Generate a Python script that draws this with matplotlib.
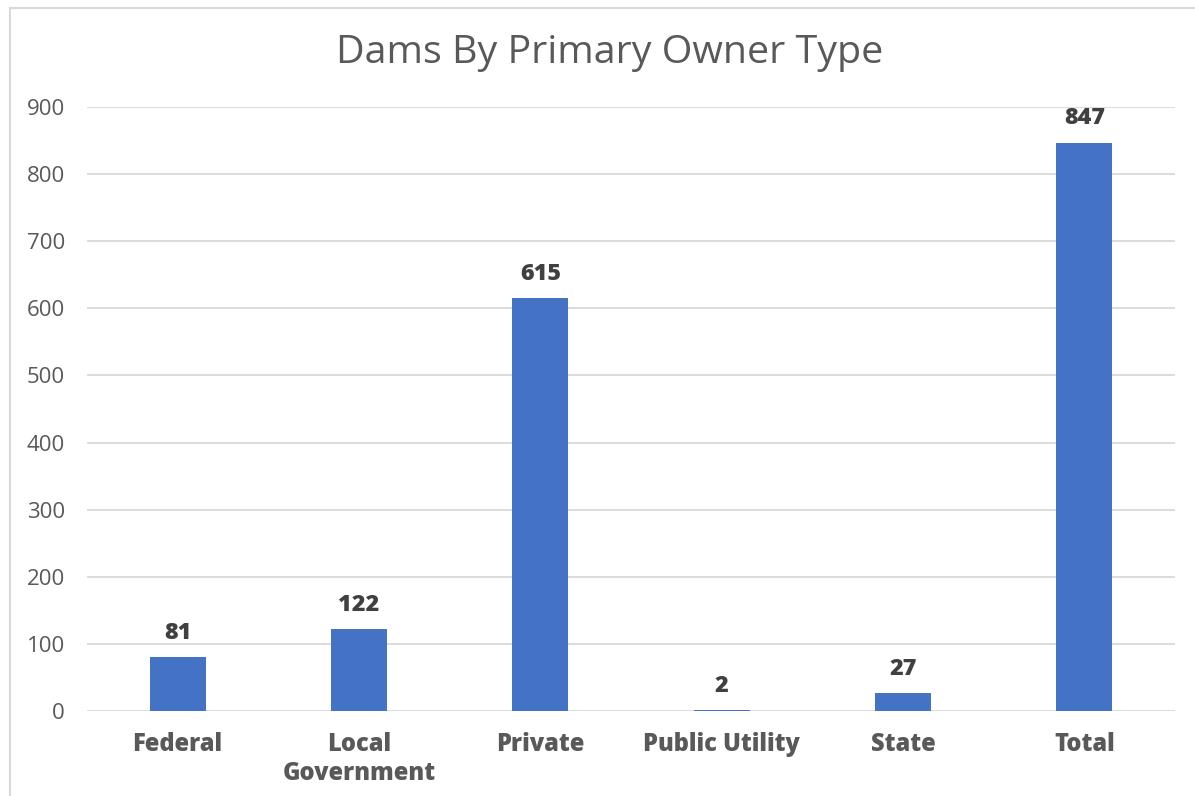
import matplotlib
matplotlib.use("Agg")
import matplotlib.pyplot as plt
from matplotlib.lines import Line2D

categories = ["Federal", "Local\nGovernment", "Private", "Public Utility", "State", "Total"]
dams = [81, 122, 615, 2, 27, 847]
yticks = [0, 100, 200, 300, 400, 500, 600, 700, 800, 900]

fig = plt.figure(figsize=(11.95, 7.96), dpi=100)
ax = fig.add_axes([0.0728, 0.1068, 0.9105, 0.7588])

x = range(len(categories))
bars = ax.bar(x, dams, width=0.31, color="#4472C4", zorder=3)
for b, v in zip(bars, dams):
    ax.annotate(str(v), (b.get_x() + b.get_width() / 2, v), xytext=(0, 13),
                textcoords="offset points", ha="center", va="baseline",
                fontsize=16.8, fontweight=800, family="Open Sans", color="#404040")

ax.set_xlim(-0.5, len(categories) - 0.5)
ax.set_ylim(0, 900)
ax.set_yticks(yticks)
ax.set_xticks(list(x))
ax.set_xticklabels(categories, fontsize=17, fontweight=800, family="Open Sans",
                   color="#595959", linespacing=1.2)
for lab in ax.get_yticklabels():
    lab.set_family("Open Sans")
    lab.set_fontsize(16)
    lab.set_color("#595959")
ax.tick_params(axis="both", length=0)
ax.tick_params(axis="x", pad=15)
ax.tick_params(axis="y", pad=16)
ax.grid(axis="y", color="#d9d9d9", linewidth=1.3, zorder=0)
for s in ax.spines.values():
    s.set_visible(False)

fig.text(0.5105, 0.933, "Dams By Primary Owner Type", ha="center", va="center",
         fontsize=28.4, family="Open Sans", color="#595959")

# chart frame
fig.add_artist(Line2D([10 / 1195, 1.0], [1 - 8 / 796, 1 - 8 / 796], color="#d9d9d9", linewidth=1.5,
                      transform=fig.transFigure))
fig.add_artist(Line2D([10 / 1195, 10 / 1195], [0, 1 - 8 / 796], color="#d9d9d9", linewidth=1.5,
                      transform=fig.transFigure))

fig.savefig("out.png", dpi=100, facecolor="white")
